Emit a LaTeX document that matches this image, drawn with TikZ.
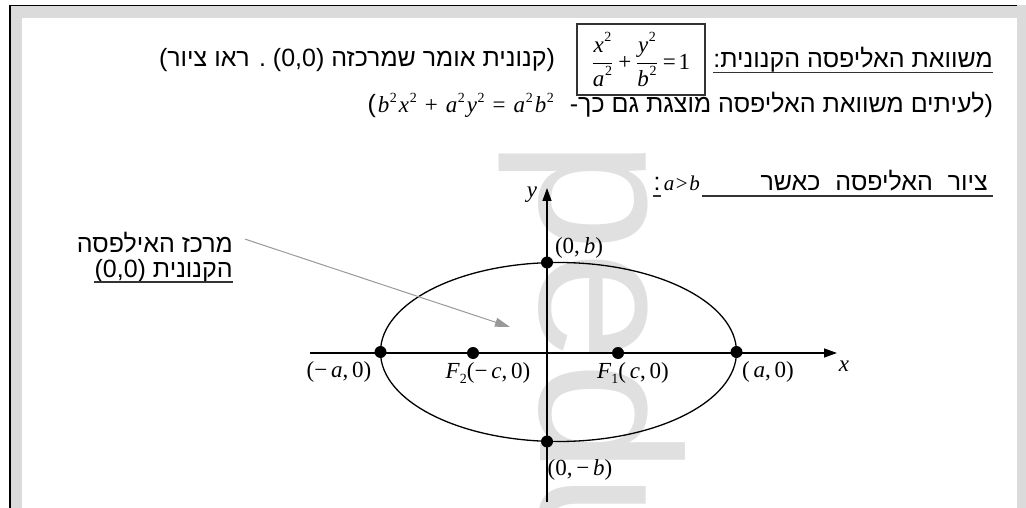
\documentclass[tikz,border=0pt]{standalone}
\usepackage{fontspec}
\usetikzlibrary{arrows.meta}
\newfontfamily\heb[Script=Hebrew]{Liberation Sans}
\newfontfamily\lat{Liberation Sans}
\newfontfamily\tnr{Liberation Serif}
\newfontfamily\wm{Liberation Sans}
\TeXXeTstate=1
\newcommand\sq{\hspace{0.6pt}\raisebox{0.45em}{\fontsize{14}{14}\selectfont 2}}
\newcommand\mv[1]{\textit{#1}}
\newcommand\subtwo{\raisebox{-0.22em}{\fontsize{14}{14}\selectfont 2}}
\newcommand\subone{\raisebox{-0.22em}{\fontsize{14}{14}\selectfont 1}}
\newcommand\lp{{\lat(}}
\newcommand\rp{{\lat)}}
\begin{document}
\begin{tikzpicture}[x=1pt,y=-1pt,
  hebt/.style={font=\heb\fontsize{25}{30}\selectfont, inner sep=0pt},
  mlab/.style={font=\tnr\fontsize{23}{27}\selectfont, inner sep=0pt},
  uline/.style={line width=1.1pt, black!80},
  axis/.style={line width=1.4pt, -{Triangle[length=13pt,width=9pt]}},
  dot/.style={circle, fill=black, inner sep=0pt, minimum size=12pt},
  ptr/.style={line width=1pt, black!40, -{Triangle[length=15pt,width=9pt]}},
]
\useasboundingbox (0,0) rectangle (1026,508);
\fill[white] (0,0) rectangle (1026,508);
\fill[black!14] (10,5) rectangle (1026,508);
\fill[white] (22,18) rectangle (1017,508);
\draw[line width=1.6pt] (10,508) -- (10,5.5) -- (1017,5.5);

\begin{scope}
\clip (22,18) rectangle (1017,508);
\node[rotate=-90, anchor=base west, text=black!12, font=\wm\fontsize{200}{200}\selectfont, inner sep=0pt] (wmk) at (540,140) {pedu};
\end{scope}

% top lines
\node[hebt, anchor=base east] (h1) at (993,68) {:\beginR משוואת האליפסה הקנונית\endR};
\draw[uline] ([yshift=-4.5pt]h1.base west) -- ([yshift=-4.5pt]h1.base east);

\node[draw=black!80, line width=1.3pt, minimum width=128pt, minimum height=71pt, inner sep=0pt, font=\tnr\fontsize{23}{27}\selectfont] (eqbox) at (641,59.5)
  {$\displaystyle\frac{\mbox{\mv{x}\sq\rule[-4pt]{0pt}{4pt}}}{\mbox{\mv{a}\sq\rule{0pt}{19pt}}}\mbox{\hspace{5pt}+\hspace{5pt}}\frac{\mbox{\mv{y}\sq\rule[-4pt]{0pt}{4pt}}}{\mbox{\mv{b}\sq\rule{0pt}{19pt}}}\mbox{\hspace{5pt}=\hspace{3pt}1}$};

\node[hebt, anchor=base east] (h2) at (555,67) {\lp\beginR קנונית אומר שמרכזה \beginL(0,0)\endL{} . ראו ציור\endR\rp};

\node[hebt, anchor=base east] (h3) at (993,113) {\lp\hspace{2pt}{\tnr\fontsize{23}{27}\selectfont\mv{b}\sq\hspace{2pt}\mv{x}\sq\hspace{8pt}+\hspace{8pt}\mv{a}\sq\hspace{2pt}\mv{y}\sq\hspace{8pt}=\hspace{8pt}\mv{a}\sq\hspace{2pt}\mv{b}\sq}\hspace{16pt}-\beginR לעיתים משוואת האליפסה מוצגת גם כך\endR\rp};

\node[hebt, anchor=base east] (h4) at (988,190) {\beginR ציור\hspace{8pt} האליפסה\hspace{8pt} כאשר\endR};
\coordinate (u4a) at (702,196);
\coordinate (u4b) at (993,196);
\draw[uline] (u4a) -- (u4b);
\node[mlab, font=\tnr\fontsize{21}{25}\selectfont, anchor=base east] (h4m) at (700,190) {\mv{a}\hspace{1.5pt}>\hspace{1.5pt}\mv{b}};
\node[hebt, anchor=base east] (h4c) at ([xshift=-3pt]h4m.base west) {:};
\draw[uline] ([yshift=-6pt]h4c.base west) -- ([yshift=-6pt]h4c.base east);

% left label
\node[hebt, anchor=base east] (c1) at (233,252) {\beginR מרכז האילפסה\endR};
\node[hebt, anchor=base east] (c2) at (233,277) {(0,0) \beginR הקנונית\endR};
\draw[uline] ([yshift=-5pt]c2.base west) -- ([yshift=-5pt]c2.base east);

% axes
\coordinate (xs) at (310,353);
\coordinate (xe) at (837,353);
\coordinate (ys) at (547,502);
\coordinate (ye) at (547,188);
\draw[line width=1.3pt] (558.5,352) ellipse [x radius=178, y radius=89.5];
\draw[axis] (xs) -- (xe);
\draw[axis] (ys) -- (ye);

\node[dot] (va) at (380.5,352) {};
\node[dot] (vb) at (736.5,352) {};
\node[dot] (f2) at (473,353) {};
\node[dot] (f1) at (618,353) {};
\node[dot] (bt) at (547,262.5) {};
\node[dot] (bb) at (547,441.5) {};

\node[mlab] (la) at (339,372) {(−\,\mv{a},\,0)};
\node[mlab] (lf2) at (488,373) {\mv{F}\subtwo(−\,\mv{c},\,0)};
\node[mlab] (lf1) at (633,373) {\mv{F}\subone(\,\mv{c},\,0)};
\node[mlab] (lb) at (768,372) {(\,\mv{a},\,0)};
\node[mlab] (lx) at (844,366) {\mv{x}};
\node[mlab] (lbb) at (580,470) {(0,\,−\,\mv{b})};
\node[mlab] (lbt) at (579,248) {(0,\,\mv{b})};
\node[mlab] (ly) at (532,195) {\mv{y}};

\coordinate (ptip) at (510,327);
\draw[ptr] ([xshift=12pt,yshift=3pt]c1.east) -- (ptip);
\end{tikzpicture}
\end{document}
